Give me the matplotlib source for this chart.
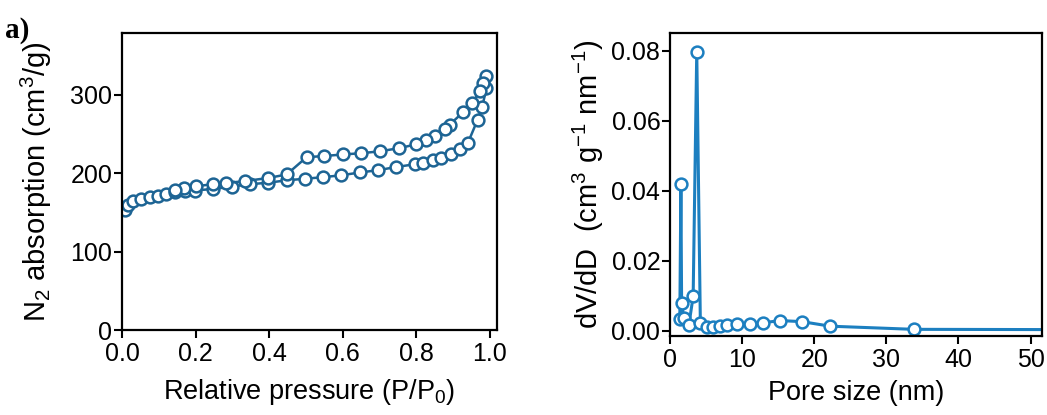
import matplotlib
matplotlib.use('Agg')
import matplotlib.pyplot as plt

plt.rcParams['font.family'] = ['Liberation Sans', 'DejaVu Sans']
plt.rcParams['mathtext.fontset'] = 'custom'
plt.rcParams['mathtext.rm'] = 'Liberation Sans'
plt.rcParams['mathtext.it'] = 'Liberation Sans'

# isotherm: adsorption branch
ads_p = [0.008, 0.017, 0.031, 0.053, 0.076, 0.099, 0.121, 0.144, 0.171, 0.198,
         0.248, 0.298, 0.348, 0.398, 0.448, 0.497, 0.547, 0.597, 0.647, 0.697,
         0.746, 0.796, 0.819, 0.846, 0.869, 0.896, 0.918, 0.941, 0.967, 0.980, 0.991]
ads_v = [153, 160, 164, 167, 169.5, 171.5, 174, 176, 177, 178,
         180, 183, 186, 188, 191, 193, 195, 197.5, 201, 204,
         208, 211.5, 213.7, 217, 220, 224, 230.7, 239, 268, 285, 308.5]

# isotherm: desorption branch
des_p = [0.991, 0.982, 0.973, 0.953, 0.928, 0.891, 0.879, 0.851, 0.826, 0.801,
         0.753, 0.701, 0.651, 0.601, 0.549, 0.502, 0.448, 0.398, 0.334, 0.283,
         0.248, 0.200, 0.170, 0.143]
des_v = [324, 315, 305, 289.5, 278, 262, 257, 247, 242, 237,
         232, 228, 225.6, 224, 222, 220.5, 198.5, 194, 190, 187.5,
         186, 183.5, 181, 179]

# pore size distribution
pore_d = [1.35, 1.5, 1.6, 1.9, 2.6, 3.2, 3.7, 4.2, 5.1, 6.0, 6.9, 7.9, 9.3,
          11.1, 12.9, 15.3, 18.3, 22.2, 33.8, 60]
pore_dv = [0.0033, 0.0420, 0.0080, 0.0036, 0.0016, 0.0098, 0.0798, 0.0022, 0.0011,
           0.0011, 0.0013, 0.0015, 0.0019, 0.0020, 0.0023, 0.0029, 0.0026, 0.0013,
           0.0004, 0.0003]

dark_blue = '#1d6494'
light_blue = '#1c7fc0'

fig = plt.figure(figsize=(10.47, 4.15), dpi=100)

def style_axes(ax):
    for s in ax.spines.values():
        s.set_linewidth(1.6)
    ax.tick_params(direction='out', length=5.5, width=1.5, labelsize=18)
    ax.tick_params(axis='x', pad=3)
    ax.tick_params(axis='y', pad=1.5)

# left: N2 isotherm
ax1 = fig.add_axes([0.1165, 0.2048, 0.3582, 0.7157])
ax1.plot(ads_p, ads_v, '-o', color=dark_blue, lw=1.8, ms=8.5, mew=1.8,
         mfc='white', mec=dark_blue)
ax1.plot(des_p, des_v, '-o', color=dark_blue, lw=1.8, ms=8.5, mew=1.8,
         mfc='white', mec=dark_blue)
ax1.set_xlim(0, 1.02)
ax1.set_ylim(0, 379)
ax1.set_xticks([0.0, 0.2, 0.4, 0.6, 0.8, 1.0])
ax1.set_yticks([0, 100, 200, 300])
ax1.set_xlabel('Relative pressure (P/P$_0$)', fontsize=19.5, labelpad=8)
ax1.set_ylabel('N$_2$ absorption (cm$^3$/g)', fontsize=21, labelpad=12)
style_axes(ax1)

# right: pore size distribution
ax2 = fig.add_axes([0.640, 0.1904, 0.3553, 0.7301])
ax2.plot(pore_d, pore_dv, '-o', color=light_blue, lw=2.2, ms=8.5, mew=1.8,
         mfc='white', mec=light_blue)
ax2.set_xlim(0, 51.6)
ax2.set_ylim(-0.0015, 0.0851)
ax2.set_xticks([0, 10, 20, 30, 40, 50])
ax2.set_yticks([0.00, 0.02, 0.04, 0.06, 0.08])
ax2.set_yticklabels(['0.00', '0.02', '0.04', '0.06', '0.08'])
ax2.set_xlabel('Pore size (nm)', fontsize=19.5, labelpad=6)
ax2.set_ylabel('dV/dD  (cm$^3$ g$^{-1}$ nm$^{-1}$)', fontsize=21, labelpad=4)
style_axes(ax2)

fig.text(0.005, 0.96, 'a)', fontsize=21, fontweight='bold',
         family='Liberation Serif', va='top', ha='left')

plt.savefig('out.png', dpi=100)
